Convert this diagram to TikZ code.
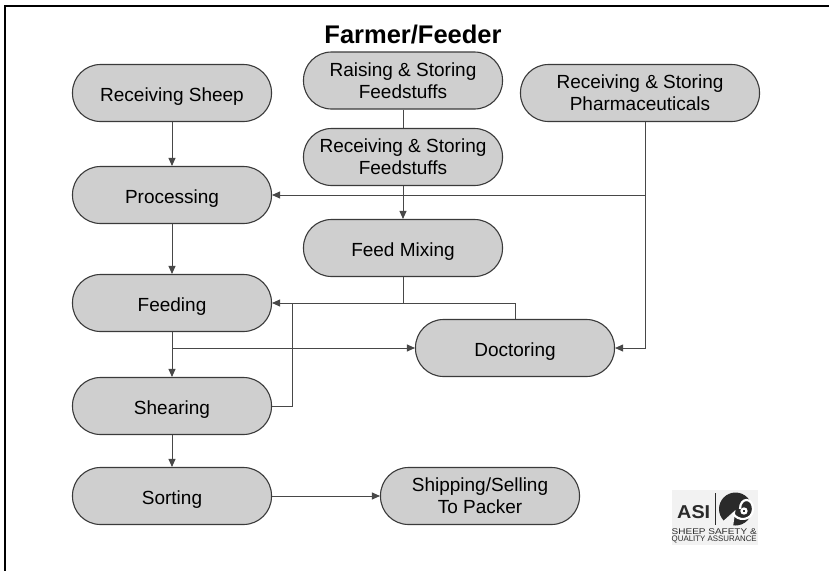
\documentclass[tikz,border=0pt]{standalone}
\usepackage{fontspec}
\setmainfont{Liberation Sans}
\usetikzlibrary{arrows.meta}
\definecolor{boxfill}{HTML}{CFCFCF}
\definecolor{boxline}{HTML}{3A3A3A}
\definecolor{conn}{HTML}{484848}
\definecolor{logobg}{HTML}{F2F2F2}
\definecolor{logotxt}{HTML}{2A2A2A}
\begin{document}
\begin{tikzpicture}[x=1pt,y=-1pt,
  proc/.style={draw=boxline, line width=1.1pt, fill=boxfill, rounded corners=28pt,
    minimum width=199pt, minimum height=57pt, align=center, inner sep=0pt,
    font=\fontsize{19}{22}\selectfont},
  oneline/.style={text height=17.6pt, text depth=0pt},
  arr/.style={draw=conn, line width=0.9pt, -{Triangle[length=8pt,width=7pt]}},
  ln/.style={draw=conn, line width=0.9pt}]
\useasboundingbox (0,0) rectangle (829,570);
% frame (cropped at right and bottom)
\draw[black, line width=1.6pt] (5,572) -- (5,6) -- (831,6);
% title
\node[font=\bfseries\fontsize{25.5}{28}\selectfont, anchor=base, inner sep=0pt] (title) at (413,43) {Farmer/Feeder};
% nodes
\node[proc, oneline] (rsheep) at (172,93) {Receiving Sheep};
\node[proc] (raise) at (403,80.5) {Raising \& Storing\\Feedstuffs};
\node[proc] (rfeed) at (403,157) {Receiving \& Storing\\Feedstuffs};
\node[proc, minimum width=239pt] (pharm) at (640,93) {Receiving \& Storing\\Pharmaceuticals};
\node[proc, oneline] (process) at (172,195) {Processing};
\node[proc, oneline] (mix) at (403,248) {Feed Mixing};
\node[proc, oneline] (feed) at (172,303) {Feeding};
\node[proc, oneline] (doctor) at (515,348) {Doctoring};
\node[proc, oneline] (shear) at (172,406) {Shearing};
\node[proc, oneline] (sort) at (172,496) {Sorting};
\node[proc] (ship) at (480,496) {Shipping/Selling\\To Packer};
% connectors
\draw[arr] (rsheep) -- (process);
\draw[ln] (raise) -- (rfeed);
\draw[arr] (rfeed) -- (mix);
\coordinate (pb) at ([xshift=5pt]pharm.south);
\draw[arr] (pb) |- (doctor.east);
\draw[arr] (pb |- process.east) -- (process.east);
\draw[arr] (process) -- (feed);
\draw[arr] (mix) |- (feed.east);
\draw[ln] (doctor.north) |- (mix.south |- feed.east);
\coordinate (sx) at ([xshift=20pt]shear.east);
\draw[ln] (shear.east) -- (sx) -- (sx |- feed.east);
\draw[arr] (feed) -- (shear);
\coordinate (fb) at (feed.south |- doctor.west);
\draw[arr] (fb) -- (doctor.west);
\draw[arr] (shear) -- (sort);
\draw[arr] (sort) -- (ship);
% logo
\fill[logobg] (672,490) rectangle (758,545);
\node[text=logotxt, anchor=base west, inner sep=0pt] (asi) at (677,518) {\resizebox{33pt}{13pt}{\bfseries ASI}};
\draw[logotxt, line width=0.7pt] (715,493) -- (715,525);
\fill[logotxt] (735.5,509) circle (16.5);
\fill[logobg] (735.5,510) -- (721,523) -- (733,527) -- cycle;
\draw[white, line width=2.2pt, line cap=round] (744,511) circle (2.5);
\draw[white, line width=2.2pt] (740,509) .. controls (740,497) and (753,497) .. (753,509) .. controls (753,521) and (737,522) .. (733,513);
\node[text=logotxt, anchor=base west, inner sep=0pt] (l1) at (671.5,534.3) {\resizebox{85pt}{5.8pt}{SHEEP SAFETY \&}};
\node[text=logotxt, anchor=base west, inner sep=0pt] (l2) at (671.5,541) {\resizebox{85pt}{5.6pt}{QUALITY ASSURANCE}};
\end{tikzpicture}
\end{document}
